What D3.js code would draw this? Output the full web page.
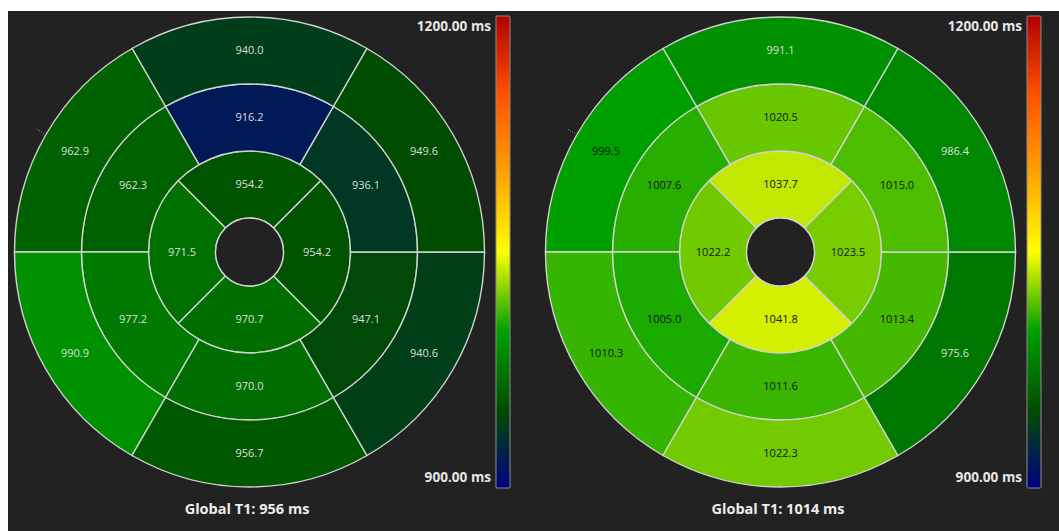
<!DOCTYPE html>
<html>
<head>
<meta charset="utf-8">
<script src="https://cdn.jsdelivr.net/npm/d3@7"></script>
<style>
  html, body { margin: 0; padding: 0; background: #ffffff; }
  svg { display: block; }
</style>
</head>
<body>
<svg id="chart" width="1059" height="531"></svg>
<script>
// T1 values (ms) per AHA segment.
// Basal and mid rings: anterior, anteroseptal, inferoseptal, inferior, inferolateral, anterolateral.
// Apical ring: anterior, septal, inferior, lateral.
const leftBasal   = [940.0, 962.9, 990.9, 956.7, 940.6, 949.6];
const leftMid     = [916.2, 962.3, 977.2, 970.0, 947.1, 936.1];
const leftApical  = [954.2, 971.5, 970.7, 954.2];
const rightBasal  = [991.1, 999.5, 1010.3, 1022.3, 975.6, 986.4];
const rightMid    = [1020.5, 1007.6, 1005.0, 1011.6, 1013.4, 1015.0];
const rightApical = [1037.7, 1022.2, 1041.8, 1023.5];
const globalT1    = [956, 1014];
const colorDomain = [900, 950, 1000, 1050, 1100, 1150, 1200];
const colorRange  = ["#000080", "#004d00", "#00a000", "#ffff00", "#ffa200", "#ff5200", "#b00000"];
const scaleTicks  = [900, 1200];
const scaleTickLabels = ["900.00 ms", "1200.00 ms"];

const maps = [
  { rings: [leftApical, leftMid, leftBasal], global: globalT1[0] },
  { rings: [rightApical, rightMid, rightBasal], global: globalT1[1] }
];

const svg = d3.select("#chart");
const W = 1059, H = 531;

// dark canvas
svg.append("rect").attr("x", 8).attr("y", 11)
  .attr("width", W - 8).attr("height", H - 11).attr("fill", "#222222");

const color = d3.scaleLinear().domain(colorDomain).range(colorRange).clamp(true);

// ring boundaries: 0 = apex hole edge ... 3 = outer edge
const radius = d3.scaleLinear().domain([0, 3]).range([34, 235]);
const barY = d3.scaleLinear().domain([900, 1200]).range([488, 16]);

// gradient for the colour bar
const defs = svg.append("defs");
const grad = defs.append("linearGradient").attr("id", "t1grad")
  .attr("x1", 0).attr("y1", 1).attr("x2", 0).attr("y2", 0);
grad.selectAll("stop").data(colorDomain).join("stop")
  .attr("offset", d => (d - 900) / 300)
  .attr("stop-color", d => color(d));

const arc = d3.arc();
const panelW = 531;

maps.forEach((m, p) => {
  const x0 = 8 + p * panelW;
  const cx = x0 + 241.5, cy = 252;
  const g = svg.append("g").attr("transform", `translate(${cx},${cy})`);

  const segs = [];
  m.rings.forEach((vals, ring) => {
    const n = vals.length;
    const ang = d3.scaleLinear().domain([0, n]).range([0, -2 * Math.PI]);
    const half = Math.PI / n;
    vals.forEach((v, i) => {
      const mid = ang(i);
      segs.push({
        value: v,
        innerRadius: radius(ring),
        outerRadius: radius(ring + 1),
        startAngle: mid - half,
        endAngle: mid + half,
        mid: mid,
        rMid: (radius(ring) + radius(ring + 1)) / 2
      });
    });
  });

  g.selectAll("path.seg").data(segs).join("path")
    .attr("class", "seg")
    .attr("d", d => arc(d))
    .attr("fill", d => color(d.value))
    .attr("stroke", "#d2d2d2")
    .attr("stroke-width", 1.4);

  // apex hole
  g.append("circle").attr("r", radius(0))
    .attr("fill", "#222222").attr("stroke", "#d2d2d2").attr("stroke-width", 1.4);

  // RV insertion marker
  const a = -Math.PI / 3;
  g.append("line")
    .attr("x1", Math.sin(a) * 237).attr("y1", -Math.cos(a) * 237)
    .attr("x2", Math.sin(a) * 247).attr("y2", -Math.cos(a) * 247)
    .attr("stroke", "#9a9a9a").attr("stroke-width", 1)
    .attr("stroke-dasharray", "1,1.5");

  g.selectAll("text.val").data(segs).join("text")
    .attr("class", "val")
    .attr("x", d => Math.sin(d.mid) * d.rMid)
    .attr("y", d => -Math.cos(d.mid) * d.rMid)
    .attr("dy", "0.36em")
    .attr("text-anchor", "middle")
    .attr("font-family", "'Open Sans', sans-serif")
    .attr("font-size", 11)
    .attr("fill", d => d3.lab(color(d.value)).l > 55 ? "#141414" : "#dedede")
    .text(d => d.value.toFixed(1));

  // colour bar
  const bx = x0 + 488;
  svg.append("rect")
    .attr("x", bx).attr("y", barY(1200))
    .attr("width", 14).attr("height", barY(900) - barY(1200))
    .attr("fill", "url(#t1grad)")
    .attr("stroke", "#8c8c8c").attr("stroke-width", 1).attr("rx", 1);

  svg.selectAll(null).data(scaleTicks).join("text")
    .attr("x", bx - 5)
    .attr("y", d => d === 1200 ? barY(d) + 15 : barY(d) - 6.5)
    .attr("text-anchor", "end")
    .attr("font-family", "'Open Sans', sans-serif")
    .attr("font-weight", "bold")
    .attr("font-size", 13.6)
    .attr("fill", "#e6e6e6")
    .text((d, i) => scaleTickLabels[i]);

  svg.append("text")
    .attr("x", x0 + 239).attr("y", 514)
    .attr("text-anchor", "middle")
    .attr("font-family", "'Open Sans', sans-serif")
    .attr("font-weight", "bold")
    .attr("font-size", 14.5)
    .attr("fill", "#ededed")
    .text(`Global T1: ${m.global} ms`);
});
</script>
</body>
</html>
